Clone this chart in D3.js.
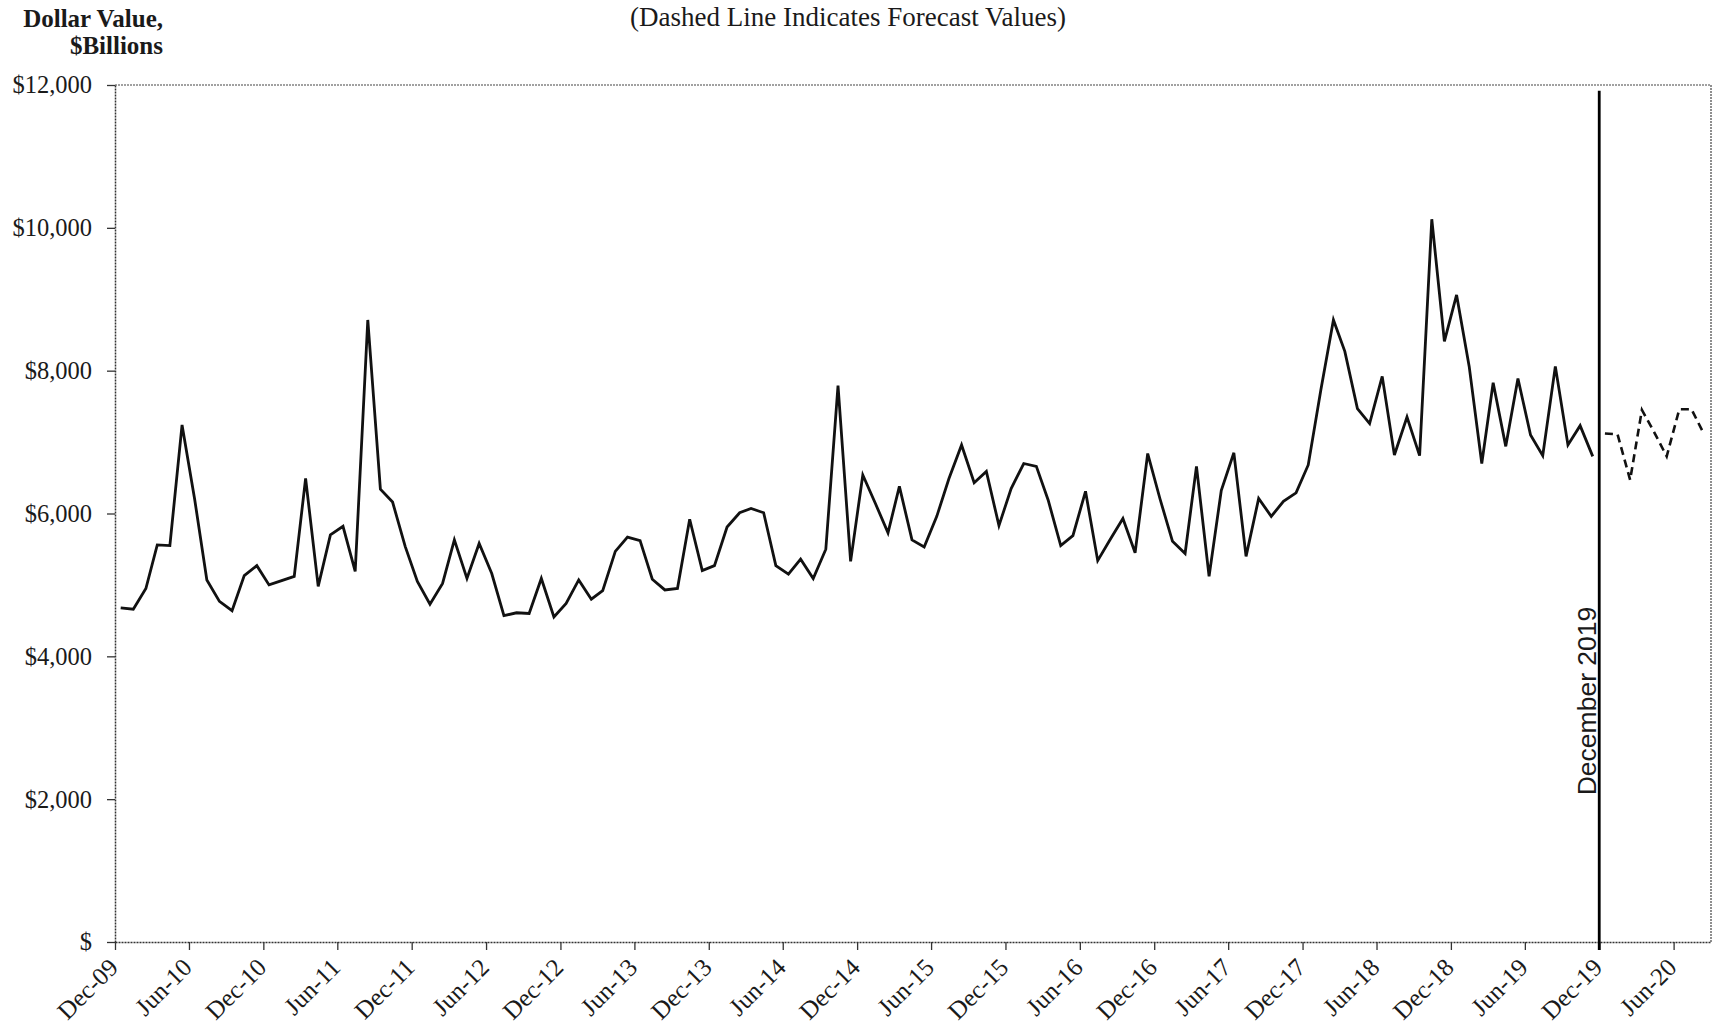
<!DOCTYPE html>
<html>
<head>
<meta charset="utf-8">
<script src="https://cdn.jsdelivr.net/npm/d3@7"></script>
<style>
  body { margin: 0; background: #fff; }
  svg text { font-family: "Liberation Serif", "Times New Roman", serif; fill: #1a1a1a; }
</style>
</head>
<body>
<div id="chart"></div>
<script>
// Valores mensuales, $ miles de millones (Dic-09 a Nov-19)
const actualValues = [
  4680, 4660, 4950, 5560, 5550, 7240, 6200, 5070, 4770, 4640, 5130, 5270,
  5000, 5060, 5120, 6490, 4980, 5700, 5820, 5190, 8710, 6340, 6160, 5540,
  5050, 4730, 5020, 5630, 5090, 5580, 5160, 4570, 4610, 4600, 5090, 4550,
  4740, 5070, 4800, 4920, 5470, 5670, 5620, 5080, 4930, 4950, 5920, 5200,
  5270, 5810, 6010, 6070, 6010, 5270, 5150, 5360, 5090, 5500, 7790, 5330,
  6540, 6140, 5730, 6380, 5630, 5530, 5960, 6490, 6960, 6430, 6590, 5830,
  6350, 6700, 6660, 6190, 5550, 5690, 6310, 5340, 5640, 5930, 5450, 6840,
  6210, 5610, 5440, 6660, 5120, 6320, 6850, 5400, 6210, 5960, 6170, 6290,
  6680, 7730, 8710, 8270, 7470, 7260, 7920, 6820, 7350, 6810, 10120, 8410,
  9060, 8060, 6700, 7830, 6940, 7890, 7100, 6810, 8060, 6960, 7230, 6800
];
// Pronóstico (Dic-19 a Ago-20)
const forecastValues = [7120, 7110, 6470, 7450, 7130, 6800, 7460, 7460, 7110];

const yTicks = [0, 2000, 4000, 6000, 8000, 10000, 12000];
const xTickLabels = [
  "Dec-09", "Jun-10", "Dec-10", "Jun-11", "Dec-11", "Jun-12", "Dec-12",
  "Jun-13", "Dec-13", "Jun-14", "Dec-14", "Jun-15", "Dec-15", "Jun-16",
  "Dec-16", "Jun-17", "Dec-17", "Jun-18", "Dec-18", "Jun-19", "Dec-19", "Jun-20"
];

const parseMonth = d3.timeParse("%b-%y");
const firstMonth = new Date(2009, 11, 15);
const forecastStart = new Date(2019, 11, 1);

// Fechas de cada punto (a mitad de mes)
const actual = actualValues.map((v, i) => ({ date: d3.timeMonth.offset(firstMonth, i), value: v }));
const forecast = forecastValues.map((v, i) => ({ date: d3.timeMonth.offset(firstMonth, actualValues.length + i), value: v }));

const width = 1721, height = 1025;
const margin = { left: 115, right: 1711, top: 85, bottom: 942 };

const svg = d3.select("#chart")
  .append("svg")
  .attr("width", width)
  .attr("height", height);

const x = d3.scaleTime()
  .domain([new Date(2009, 11, 1), new Date(2020, 8, 1)])
  .range([margin.left, margin.right]);

const y = d3.scaleLinear()
  .domain([0, 12000])
  .range([margin.bottom, margin.top]);

// Borde superior y derecho del área de trazado
svg.append("path")
  .attr("d", `M${margin.left},${margin.top}H${margin.right}V${margin.bottom}`)
  .attr("fill", "none")
  .attr("stroke", "#444")
  .attr("stroke-width", 1.2)
  .attr("stroke-dasharray", "2,1");

// Eje Y
const yAxis = svg.append("g")
  .attr("transform", `translate(${margin.left},0)`)
  .call(d3.axisLeft(y)
    .tickValues(yTicks)
    .tickSize(8)
    .tickSizeOuter(0)
    .tickPadding(15)
    .tickFormat(d => d === 0 ? "$" : "$" + d3.format(",")(d)));

yAxis.select(".domain").attr("stroke", "#333").attr("stroke-width", 1.5).attr("stroke-dasharray", "2,1");
yAxis.selectAll(".tick line").attr("stroke", "#333").attr("stroke-width", 1.3);
yAxis.selectAll(".tick text")
  .style("font-size", "24.5px")
  .attr("fill", "#1a1a1a");

// Eje X
const xAxis = svg.append("g")
  .attr("transform", `translate(0,${margin.bottom})`)
  .call(d3.axisBottom(x)
    .tickValues(xTickLabels.map(parseMonth))
    .tickSize(8)
    .tickSizeOuter(0)
    .tickFormat(d3.timeFormat("%b-%y")));

xAxis.select(".domain").attr("stroke", "#333").attr("stroke-width", 1.5).attr("stroke-dasharray", "2,1");
xAxis.selectAll(".tick line").attr("stroke", "#333").attr("stroke-width", 1.3);
xAxis.selectAll(".tick text")
  .style("font-size", "25px")
  .attr("fill", "#1a1a1a")
  .attr("x", 0)
  .attr("y", 0)
  .attr("dy", 0)
  .attr("text-anchor", "end")
  .attr("transform", "translate(4,27) rotate(-45)");

const line = d3.line()
  .x(d => x(d.date))
  .y(d => y(d.value));

// Serie real
svg.append("path")
  .datum(actual)
  .attr("fill", "none")
  .attr("stroke", "#111")
  .attr("stroke-width", 2.8)
  .attr("stroke-linejoin", "miter")
  .attr("d", line);

// Serie pronosticada (discontinua)
svg.append("path")
  .datum(forecast)
  .attr("fill", "none")
  .attr("stroke", "#111")
  .attr("stroke-width", 2.6)
  .attr("stroke-dasharray", "8,5")
  .attr("d", line);

// Línea vertical de diciembre 2019
svg.append("line")
  .attr("x1", x(forecastStart))
  .attr("x2", x(forecastStart))
  .attr("y1", y(11920))
  .attr("y2", margin.bottom + 8)
  .attr("stroke", "#000")
  .attr("stroke-width", 2.8);

svg.append("text")
  .attr("transform", `translate(${x(forecastStart) - 3},701) rotate(-90)`)
  .attr("text-anchor", "middle")
  .style("font-family", "'Liberation Sans', Arial, sans-serif")
  .style("font-size", "26.5px")
  .text("December 2019");

// Títulos
svg.append("text")
  .attr("x", 848)
  .attr("y", 26)
  .attr("text-anchor", "middle")
  .style("font-size", "27px")
  .text("(Dashed Line Indicates Forecast Values)");

svg.append("text")
  .attr("x", 163)
  .attr("y", 27)
  .attr("text-anchor", "end")
  .style("font-size", "25px")
  .style("font-weight", "bold")
  .text("Dollar Value,");

svg.append("text")
  .attr("x", 163)
  .attr("y", 54)
  .attr("text-anchor", "end")
  .style("font-size", "25px")
  .style("font-weight", "bold")
  .text("$Billions");
</script>
</body>
</html>
